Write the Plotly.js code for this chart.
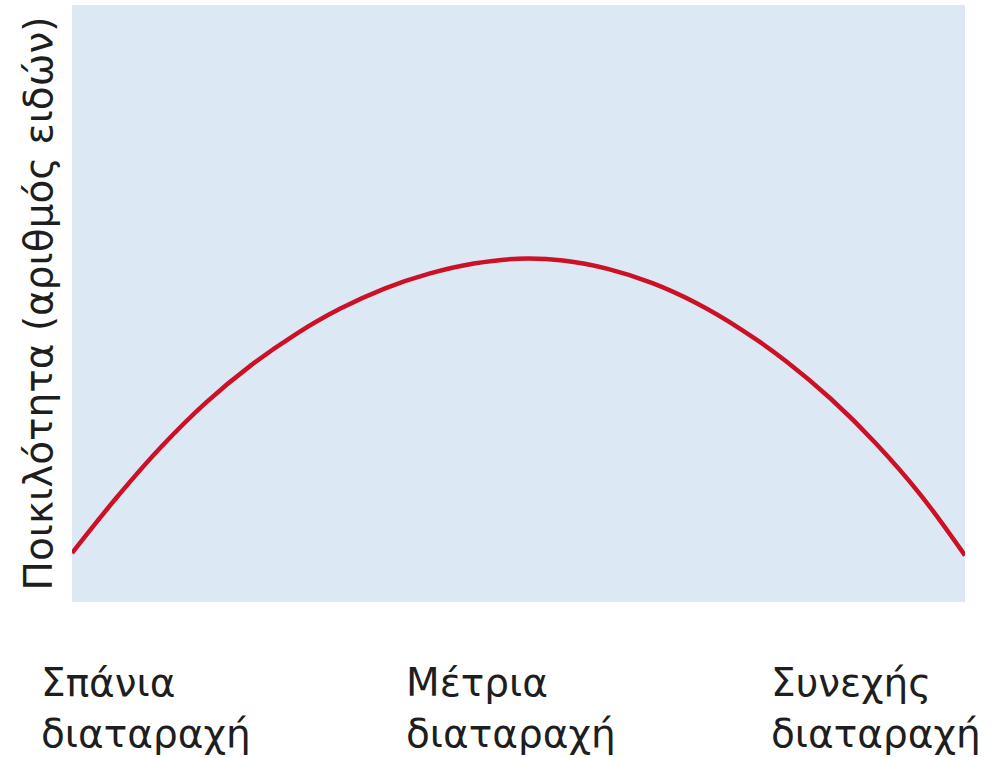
<!DOCTYPE html>
<html>
<head>
<meta charset="utf-8">
<script src="https://cdn.plot.ly/plotly-3.0.1.min.js"></script>
<style>html,body{margin:0;padding:0;background:#fff;}#chart{width:990px;height:758px;}</style>
</head>
<body>
<div id="chart"></div>
<script>
// Disturbance level (0 = rare, 10 = frequent)
const disturbance = [0, 0.5, 1, 1.5, 2, 2.5, 3, 3.5, 4, 4.5, 5, 5.5, 6, 6.5, 7, 7.5, 8, 8.5, 9, 9.5, 10];
// Species diversity (relative units)
const diversity = [0.82, 1.75, 2.60, 3.34, 3.96, 4.48, 4.91, 5.25, 5.50, 5.67, 5.75, 5.72, 5.58, 5.34, 5.00, 4.56, 4.03, 3.40, 2.66, 1.80, 0.78];
// Category labels under the x axis
const categoryLabels = ["Σπάνια<br>διαταραχή", "Μέτρια<br>διαταραχή", "Συνεχής<br>διαταραχή"];
const yTitle = "Ποικιλότητα (αριθμός ειδών)";

// layout positions (paper coords) for category labels
const labelX = [-0.037, 0.372, 0.780];
const FONT = "DejaVu Sans, sans-serif";

const trace = {
  x: disturbance,
  y: diversity,
  type: 'scatter',
  mode: 'lines',
  line: {color: '#cc1126', width: 4.5, shape: 'spline', smoothing: 1},
  hoverinfo: 'skip'
};

const annotations = categoryLabels.map((t, i) => ({
  text: t,
  xref: 'paper', yref: 'paper',
  x: labelX[i], y: -0.093,
  xanchor: 'left', yanchor: 'top',
  align: 'left',
  showarrow: false,
  font: {family: FONT, size: 39, color: '#1e1e1e'}
}));

const layout = {
  width: 990, height: 758,
  margin: {l: 72, r: 25, t: 5, b: 156},
  paper_bgcolor: '#ffffff',
  plot_bgcolor: '#dce9f5',
  showlegend: false,
  xaxis: {range: [0, 10], showgrid: false, zeroline: false, showline: false, showticklabels: false, ticks: '', fixedrange: true},
  yaxis: {range: [0, 10], showgrid: false, zeroline: false, showline: false, showticklabels: false, ticks: '', fixedrange: true,
    title: {text: yTitle, standoff: 6, font: {family: FONT, size: 39, color: '#1e1e1e'}}},
  annotations: annotations
};

Plotly.newPlot('chart', [trace], layout, {displayModeBar: false, staticPlot: true});
</script>
</body>
</html>
